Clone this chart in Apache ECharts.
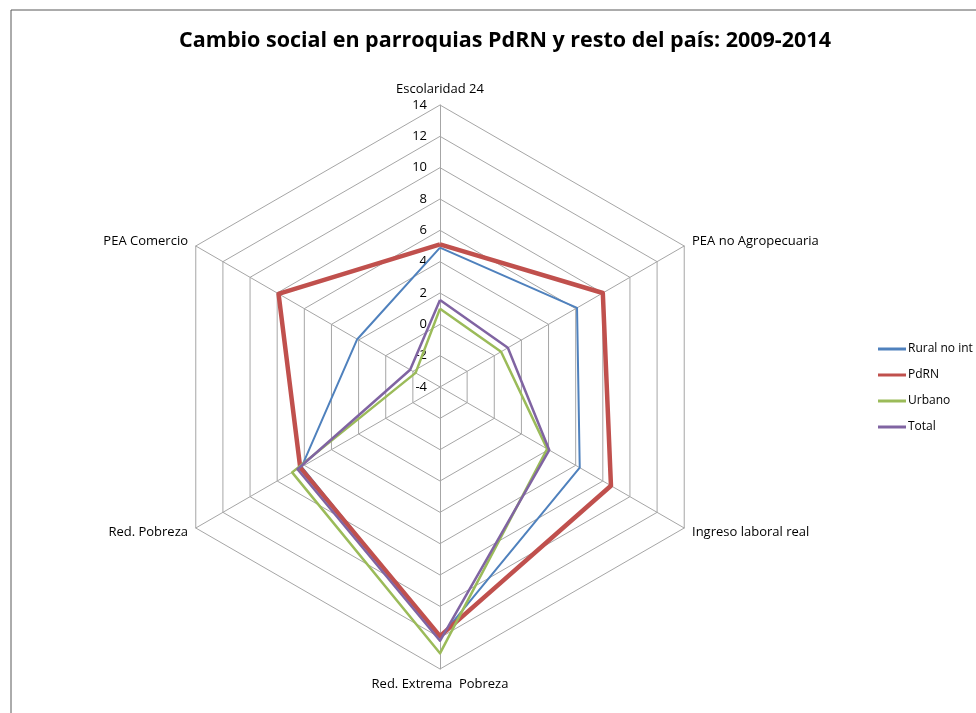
<!DOCTYPE html>
<html>
<head>
<meta charset="utf-8">
<script src="https://cdn.jsdelivr.net/npm/echarts@6/dist/echarts.min.js"></script>
<style>
  html, body { margin: 0; padding: 0; background: #fff; }
  #chart { width: 976px; height: 713px; }
</style>
</head>
<body>
<div id="chart"></div>
<script>
// indicators in counter-clockwise order from the top (ECharts radar direction)
var indicators = ["Escolaridad 24", "PEA Comercio", "Red. Pobreza", "Red. Extrema  Pobreza", "Ingreso laboral real", "PEA no Agropecuaria"];
var seriesNames = ["Rural no int", "PdRN", "Urbano", "Total"];
var ruralNoInt = [4.9, 2.1, 6.2, 12.0, 6.3, 6.1];
var pdrn = [5.1, 7.9, 6.3, 11.9, 8.6, 8.0];
var urbano = [1.0, -2.2, 6.9, 13.0, 3.9, 0.5];
var total = [1.55, -1.8, 6.5, 12.2, 4.05, 1.0];
var axisMin = -4, axisMax = 14, axisStep = 2;

var colors = ["#4F81BD", "#C0504D", "#9BBB59", "#8064A2"];
var widths = [2, 4.5, 2.5, 2.5];
var values = [ruralNoInt, pdrn, urbano, total];
var font = "'Open Sans', 'Noto Sans', sans-serif";

var chart = echarts.init(document.getElementById("chart"));

chart.setOption({
  backgroundColor: "#fff",
  animation: false,
  color: colors,
  title: {
    text: "Cambio social en parroquias PdRN y resto del país: 2009-2014",
    left: 500,
    textAlign: "center",
    top: 25,
    textStyle: { fontFamily: font, fontSize: 21.5, fontWeight: "bold", color: "#000" }
  },
  graphic: [{
    type: "rect",
    shape: { x: 11, y: 10, width: 1000, height: 800 },
    style: { fill: "none", stroke: "#595959", lineWidth: 1 },
    silent: true
  }],
  legend: {
    orient: "vertical",
    left: 873,
    top: 338,
    icon: "rect",
    itemWidth: 28,
    itemHeight: 3,
    itemGap: 14,
    data: seriesNames,
    textStyle: { fontFamily: font, fontSize: 12, color: "#000", padding: [0, 0, 0, -3] }
  },
  radar: {
    center: [440, 387],
    radius: 282,
    shape: "polygon",
    splitNumber: 9,
    nameGap: 9,
    axisName: { color: "#000", fontFamily: font, fontSize: 13 },
    indicator: indicators.map(function (n) { return { name: n, min: axisMin, max: axisMax }; }),
    axisLine: { lineStyle: { color: "#A6A6A6", width: 1 } },
    splitLine: { lineStyle: { color: "#A6A6A6", width: 1 } },
    splitArea: { show: false },
    axisLabel: { show: false },
    axisTick: { show: false }
  },
  polar: { center: [440, 387], radius: 282 },
  angleAxis: { show: false, startAngle: 90, min: 0, max: 360 },
  radiusAxis: {
    min: axisMin,
    max: axisMax,
    interval: axisStep,
    axisLine: { show: false },
    axisTick: { show: false },
    splitLine: { show: false },
    axisLabel: { color: "#000", fontFamily: font, fontSize: 13, margin: 13 }
  },
  series: [{
    type: "radar",
    symbol: "none",
    data: seriesNames.map(function (name, i) {
      return {
        name: name,
        value: values[i],
        lineStyle: { color: colors[i], width: widths[i] },
        itemStyle: { color: colors[i] }
      };
    })
  }]
});
</script>
</body>
</html>
